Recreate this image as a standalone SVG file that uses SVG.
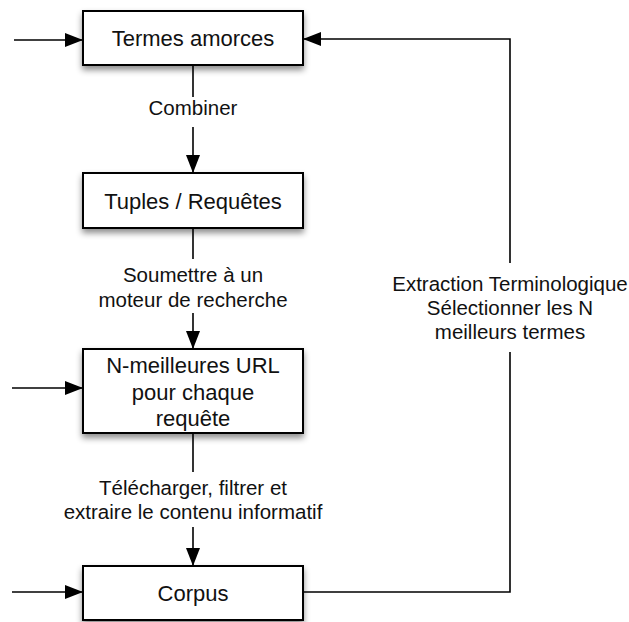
<svg xmlns="http://www.w3.org/2000/svg" width="629" height="622" viewBox="0 0 629 622">
<style>
.box{fill:#fff;stroke:#000;stroke-width:2;filter:url(#sh)}
.nt{font-family:"Liberation Sans",Arial,Helvetica,sans-serif;font-size:22px;fill:#111;text-anchor:middle}
.lt{font-family:"Liberation Sans",Arial,Helvetica,sans-serif;font-size:20.5px;fill:#111;text-anchor:middle}
.ln{fill:none;stroke:#000;stroke-width:1.6}
</style>
<defs>
<filter id="sh" x="-10%" y="-20%" width="120%" height="150%">
<feDropShadow dx="0" dy="4" stdDeviation="3" flood-color="#000" flood-opacity="0.45"/>
</filter>
<marker id="ah" viewBox="0 0 18 14" refX="18" refY="7" markerWidth="18" markerHeight="14" markerUnits="userSpaceOnUse" orient="auto">
<path d="M0,0 L18,7 L0,14 Z" fill="#000"/>
</marker>
</defs>
<rect width="629" height="622" fill="#fff"/>
<g id="connectors">
<line class="ln" x1="14" y1="40" x2="83" y2="40" marker-end="url(#ah)"/>
<line class="ln" x1="193" y1="65" x2="193" y2="97"/>
<line class="ln" x1="193" y1="127" x2="193" y2="173" marker-end="url(#ah)"/>
<line class="ln" x1="193" y1="228" x2="193" y2="259"/>
<line class="ln" x1="193" y1="313" x2="193" y2="349" marker-end="url(#ah)"/>
<line class="ln" x1="12" y1="388" x2="83" y2="388" marker-end="url(#ah)"/>
<line class="ln" x1="193" y1="433" x2="193" y2="472"/>
<line class="ln" x1="193" y1="527" x2="193" y2="566" marker-end="url(#ah)"/>
<line class="ln" x1="12" y1="592" x2="83" y2="592" marker-end="url(#ah)"/>
<polyline class="ln" points="303,592 510,592 510,352"/>
<polyline class="ln" points="510,263 510,39 303,39" marker-end="url(#ah)"/>
<text class="lt" x="193" y="115">Combiner</text>
<text class="lt" x="193" y="282">Soumettre à un</text>
<text class="lt" x="193" y="307">moteur de recherche</text>
<text class="lt" x="193" y="495">Télécharger, filtrer et</text>
<text class="lt" x="193" y="519">extraire le contenu informatif</text>
<text class="lt" x="510" y="291">Extraction Terminologique</text>
<text class="lt" x="510" y="315">Sélectionner les N</text>
<text class="lt" x="510" y="339">meilleurs termes</text>
</g>
<g id="node-termes">
<rect class="box" x="83" y="11" width="220" height="54"/>
<text class="nt" x="193" y="46">Termes amorces</text>
</g>
<g id="node-tuples">
<rect class="box" x="83" y="173" width="220" height="55"/>
<text class="nt" x="193" y="209">Tuples / Requêtes</text>
</g>
<g id="node-urls">
<rect class="box" x="83" y="349" width="220" height="84"/>
<text class="nt" x="193" y="373">N-meilleures URL</text>
<text class="nt" x="193" y="399.5">pour chaque</text>
<text class="nt" x="193" y="426">requête</text>
</g>
<g id="node-corpus">
<rect class="box" x="83" y="566" width="220" height="54"/>
<text class="nt" x="193" y="601">Corpus</text>
</g>
</svg>
